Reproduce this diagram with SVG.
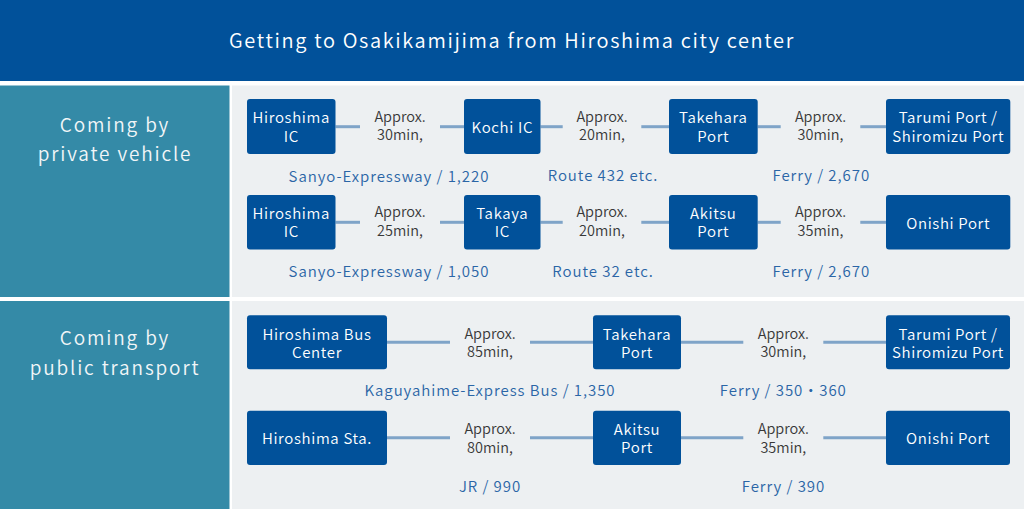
<svg xmlns="http://www.w3.org/2000/svg" width="1024" height="509" viewBox="0 0 1024 509">
<style>
text{font-family:"Noto Sans CJK JP","Noto Sans",sans-serif;font-weight:350}
.node rect{fill:#01519a}
.node text{fill:#fff;font-size:15px;letter-spacing:0.65px;text-anchor:middle}
.conn line{stroke:#7fa4c8;stroke-width:3}
.t{fill:#383838;font-size:14.5px;text-anchor:middle}
.lb{fill:#2a65a6;font-size:15px;letter-spacing:0.95px;text-anchor:middle}
.sec{fill:#f2f6f8;font-size:19px;letter-spacing:1.85px;text-anchor:middle}
</style>
<rect x="0" y="0" width="1024" height="509" fill="#ffffff"/>
<g id="header">
<rect x="0" y="0" width="1024" height="81" fill="#01519a"/>
<text x="512" y="48.3" fill="#ffffff" font-size="20px" letter-spacing="1.65px" text-anchor="middle">Getting to Osakikamijima from Hiroshima city center</text>
</g>
<g id="section-private">
<rect x="0" y="85.5" width="229.5" height="211.5" fill="#348aa7"/>
<rect x="232" y="85.5" width="792" height="211.5" fill="#edf0f2"/>
<text class="sec"><tspan x="115" y="132.3">Coming by</tspan><tspan x="115" y="160.7">private vehicle</tspan></text>
</g>
<g id="section-public">
<rect x="0" y="301" width="229.5" height="208" fill="#348aa7"/>
<rect x="232" y="301" width="792" height="208" fill="#edf0f2"/>
<text class="sec"><tspan x="115" y="345">Coming by</tspan><tspan x="115" y="375">public transport</tspan></text>
</g>
<g class="conn" id="connectors">
<line x1="335.5" y1="126.7" x2="360" y2="126.7"/>
<line x1="440" y1="126.7" x2="464" y2="126.7"/>
<line x1="540.5" y1="126.7" x2="562.7" y2="126.7"/>
<line x1="641.3" y1="126.7" x2="669" y2="126.7"/>
<line x1="757.7" y1="126.7" x2="780.7" y2="126.7"/>
<line x1="860.3" y1="126.7" x2="886" y2="126.7"/>
<line x1="335.5" y1="222.3" x2="360" y2="222.3"/>
<line x1="440" y1="222.3" x2="464" y2="222.3"/>
<line x1="540.5" y1="222.3" x2="562.7" y2="222.3"/>
<line x1="641.3" y1="222.3" x2="669" y2="222.3"/>
<line x1="757.7" y1="222.3" x2="780.7" y2="222.3"/>
<line x1="860.3" y1="222.3" x2="886" y2="222.3"/>
<line x1="387" y1="342.3" x2="450" y2="342.3"/>
<line x1="530" y1="342.3" x2="593" y2="342.3"/>
<line x1="681" y1="342.3" x2="743.3" y2="342.3"/>
<line x1="823.3" y1="342.3" x2="886" y2="342.3"/>
<line x1="387" y1="437.7" x2="450" y2="437.7"/>
<line x1="530" y1="437.7" x2="593" y2="437.7"/>
<line x1="681" y1="437.7" x2="743.3" y2="437.7"/>
<line x1="823.3" y1="437.7" x2="886" y2="437.7"/>
</g>
<g id="times">
<text class="t"><tspan x="400" y="121.7">Approx.</tspan><tspan x="400" y="140">30min,</tspan></text>
<text class="t"><tspan x="602" y="121.7">Approx.</tspan><tspan x="602" y="140">20min,</tspan></text>
<text class="t"><tspan x="820.5" y="121.7">Approx.</tspan><tspan x="820.5" y="140">30min,</tspan></text>
<text class="t"><tspan x="400" y="217.3">Approx.</tspan><tspan x="400" y="235.7">25min,</tspan></text>
<text class="t"><tspan x="602" y="217.3">Approx.</tspan><tspan x="602" y="235.7">20min,</tspan></text>
<text class="t"><tspan x="820.5" y="217.3">Approx.</tspan><tspan x="820.5" y="235.7">35min,</tspan></text>
<text class="t"><tspan x="490" y="338.7">Approx.</tspan><tspan x="490" y="357">85min,</tspan></text>
<text class="t"><tspan x="783.3" y="338.7">Approx.</tspan><tspan x="783.3" y="357">30min,</tspan></text>
<text class="t"><tspan x="490" y="434.3">Approx.</tspan><tspan x="490" y="452.7">80min,</tspan></text>
<text class="t"><tspan x="783.3" y="434.3">Approx.</tspan><tspan x="783.3" y="452.7">35min,</tspan></text>
</g>
<g id="labels">
<text class="lb" x="389" y="181.5">Sanyo-Expressway / 1,220</text>
<text class="lb" x="603" y="181">Route 432 etc.</text>
<text class="lb" x="821.3" y="181">Ferry / 2,670</text>
<text class="lb" x="389" y="276.7">Sanyo-Expressway / 1,050</text>
<text class="lb" x="603" y="276.5">Route 32 etc.</text>
<text class="lb" x="821.3" y="276.5">Ferry / 2,670</text>
<text class="lb" x="490" y="396">Kaguyahime-Express Bus / 1,350</text>
<text class="lb" x="783.3" y="395.7" letter-spacing="0.5px">Ferry / 350・360</text>
<text class="lb" x="490" y="491.7">JR / 990</text>
<text class="lb" x="783.5" y="491.7">Ferry / 390</text>
</g>
<g class="node" id="n-hiroshima-ic-1"><rect x="247" y="99" width="88.5" height="55" rx="3"/><text><tspan x="291.3" y="123.3">Hiroshima</tspan><tspan x="291.3" y="141.7">IC</tspan></text></g>
<g class="node" id="n-kochi-ic"><rect x="464" y="99" width="76.5" height="55" rx="3"/><text x="502.3" y="133.3">Kochi IC</text></g>
<g class="node" id="n-takehara-1"><rect x="669" y="99" width="88.7" height="55" rx="3"/><text><tspan x="713.3" y="123.3">Takehara</tspan><tspan x="713.3" y="141.7">Port</tspan></text></g>
<g class="node" id="n-tarumi-1"><rect x="886" y="99" width="124.3" height="55" rx="3"/><text><tspan x="948.2" y="123.3">Tarumi Port /</tspan><tspan x="948.2" y="141.7">Shiromizu Port</tspan></text></g>
<g class="node" id="n-hiroshima-ic-2"><rect x="247" y="195" width="88.5" height="54.5" rx="3"/><text><tspan x="291.3" y="219">Hiroshima</tspan><tspan x="291.3" y="237.3">IC</tspan></text></g>
<g class="node" id="n-takaya-ic"><rect x="464" y="195" width="76.5" height="54.5" rx="3"/><text><tspan x="502.3" y="219">Takaya</tspan><tspan x="502.3" y="237.3">IC</tspan></text></g>
<g class="node" id="n-akitsu-1"><rect x="669" y="195" width="88.7" height="54.5" rx="3"/><text><tspan x="713.3" y="219">Akitsu</tspan><tspan x="713.3" y="237.3">Port</tspan></text></g>
<g class="node" id="n-onishi-1"><rect x="886" y="195" width="124.3" height="54.5" rx="3"/><text x="948.2" y="228.7">Onishi Port</text></g>
<g class="node" id="n-bus-center"><rect x="247" y="315.3" width="140" height="54" rx="3"/><text><tspan x="317" y="340">Hiroshima Bus</tspan><tspan x="317" y="358.3">Center</tspan></text></g>
<g class="node" id="n-takehara-2"><rect x="593" y="315.3" width="88" height="54" rx="3"/><text><tspan x="637" y="340">Takehara</tspan><tspan x="637" y="358.3">Port</tspan></text></g>
<g class="node" id="n-tarumi-2"><rect x="886" y="315.3" width="124" height="54" rx="3"/><text><tspan x="948" y="340">Tarumi Port /</tspan><tspan x="948" y="358.3">Shiromizu Port</tspan></text></g>
<g class="node" id="n-hiroshima-sta"><rect x="247" y="410.7" width="140" height="54.3" rx="3"/><text x="317" y="444">Hiroshima Sta.</text></g>
<g class="node" id="n-akitsu-2"><rect x="593" y="410.7" width="88" height="54.3" rx="3"/><text><tspan x="637" y="435.3">Akitsu</tspan><tspan x="637" y="453.3">Port</tspan></text></g>
<g class="node" id="n-onishi-2"><rect x="886" y="410.7" width="124" height="54.3" rx="3"/><text x="948" y="444">Onishi Port</text></g>
</svg>
